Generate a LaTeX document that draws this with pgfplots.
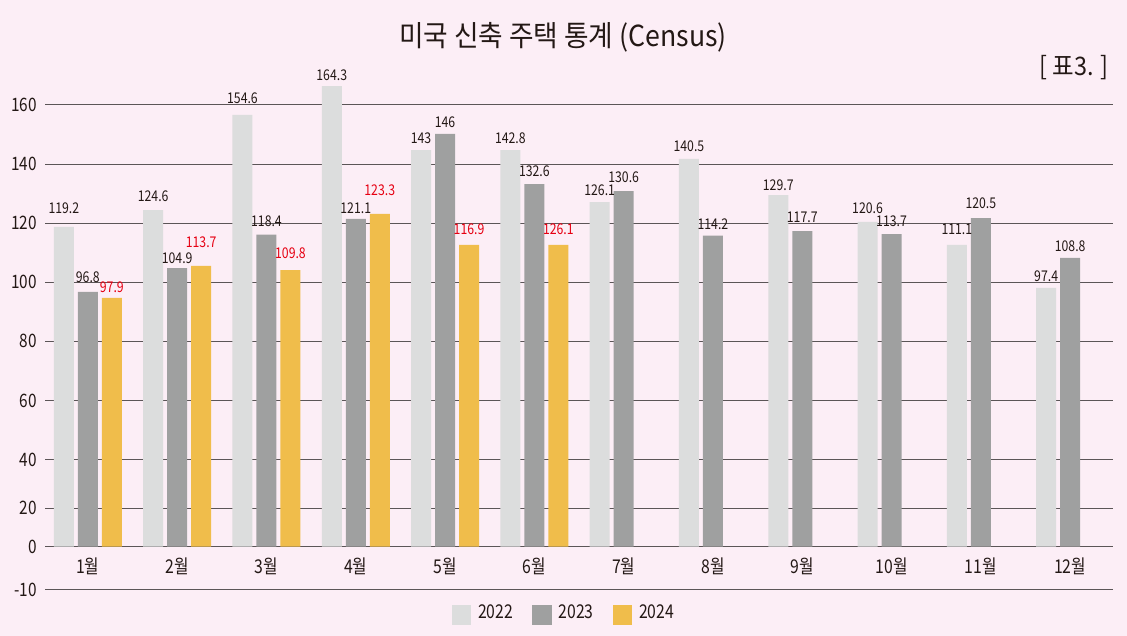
\documentclass[border=0pt]{standalone}
\usepackage{fontspec}
\setmainfont{Noto Sans CJK KR}[FakeStretch=0.83]
\newfontfamily\titlefont{Noto Sans CJK KR}[FakeStretch=0.92]
\usepackage{pgfplots}
\pgfplotsset{compat=1.18}
\definecolor{bg}{HTML}{FCEEF6}
\definecolor{c22}{HTML}{DCDDDD}
\definecolor{c23}{HTML}{9FA0A0}
\definecolor{c24}{HTML}{F0BD4B}
\definecolor{gridc}{HTML}{5B5557}
\definecolor{txt}{HTML}{231815}
\definecolor{lab}{HTML}{E60012}
\pgfplotsset{sqlegend/.style={legend image code/.code={\fill[##1] (0pt,-12.3pt) rectangle (19.5pt,7.5pt);}}}
\begin{document}
\begin{tikzpicture}
\useasboundingbox (0pt,0pt) rectangle (1127pt,-636pt);
\fill[bg] (0pt,0pt) rectangle (1127pt,-636pt);
\node[font=\titlefont\fontsize{29}{32}\selectfont, text=txt] at (563pt,-37pt) {미국 신축 주택 통계 (Census)};
\node[font=\titlefont\fontsize{25.5}{28}\selectfont, text=txt, anchor=east, inner sep=0pt] at (1109pt,-68pt) {[ 표3. ]};
\begin{axis}[
  at={(45pt,-589.7pt)}, anchor=south west,
  scale only axis, width=1068pt, height=529.7pt,
  xmin=0.52, xmax=12.48, ymin=-14.55, ymax=164.7,
  clip=false,
  axis line style={draw=none},
  major tick length=0pt,
  ymajorgrids,
  grid style={gridc, line width=0.9pt},
  xtick={1,2,3,4,5,6,7,8,9,10,11,12},
  xticklabels={1월,2월,3월,4월,5월,6월,7월,8월,9월,10월,11월,12월},
  ytick={-14.55,0,13.0,29.5,49.5,69.5,89.5,109.5,129.5,149.5},
  yticklabels={-10,0,20,40,60,80,100,120,140,160},
  xticklabel style={font=\fontsize{19}{22}\selectfont, text=txt, anchor=center, yshift=23.7pt},
  yticklabel style={font=\fontsize{18.5}{20}\selectfont, text=txt, anchor=east, inner sep=0pt, xshift=-8pt},
  legend style={at={(0.485,-0.0478)}, anchor=center, draw=none, fill=none,
    font=\fontsize{19}{22}\selectfont, text=txt,
    legend columns=3,
    nodes={inner sep=0pt},
    /tikz/every odd column/.append style={column sep=7pt},
    /tikz/every even column/.append style={column sep=19pt}},
  sqlegend,
]
\addplot[ybar, bar width=20pt, bar shift=-24pt, fill=c22, draw=none, sqlegend]
  coordinates {(1,108.2) (2,113.9) (3,146.1) (4,155.9) (5,134.2) (6,134.2) (7,116.6) (8,131.2) (9,119.0) (10,109.9) (11,102.1) (12,87.6)};
\addlegendentry{2022}
\addplot[ybar, bar width=20pt, bar shift=0pt, fill=c23, draw=none, sqlegend]
  coordinates {(1,86.2) (2,94.3) (3,105.6) (4,110.9) (5,139.7) (6,122.7) (7,120.3) (8,105.3) (9,106.8) (10,105.8) (11,111.2) (12,97.7)};
\addlegendentry{2023}
\addplot[ybar, bar width=20pt, bar shift=24pt, fill=c24, draw=none, sqlegend]
  coordinates {(1,84.2) (2,95.0) (3,93.6) (4,112.6) (5,102.1) (6,102.1)};
\addlegendentry{2024}
% value labels
\addplot[draw=none, mark=none, forget plot, nodes near coords, point meta=explicit symbolic,
  every node near coord/.append style={xshift=-24pt, anchor=base, inner sep=0pt, text=txt, font=\fontsize{14.8}{16}\selectfont}]
  coordinates {(1,112.6)[119.2] (2,116.9)[124.6] (3,150.1)[154.6] (4,157.7)[164.3] (5,136.3)[143] (6,136.3)[142.8] (7,118.7)[126.1] (8,133.6)[140.5] (9,120.7)[129.7] (10,112.8)[120.6] (11,105.6)[111.1] (12,89.6)[97.4]};
\addplot[draw=none, mark=none, forget plot, nodes near coords, point meta=explicit symbolic,
  every node near coord/.append style={xshift=0pt, anchor=base, inner sep=0pt, text=txt, font=\fontsize{14.8}{16}\selectfont}]
  coordinates {(1,89.3)[96.8] (2,95.7)[104.9] (3,108.3)[118.4] (4,112.8)[121.1] (5,141.9)[146] (6,125.2)[132.6] (7,123.4)[130.6] (8,107.2)[114.2] (9,109.6)[117.7] (10,108.3)[113.7] (11,114.6)[120.5] (12,100.0)[108.8]};
\addplot[draw=none, mark=none, forget plot, nodes near coords, point meta=explicit symbolic,
  every node near coord/.append style={xshift=24pt, anchor=base, inner sep=0pt, text=lab, font=\fontsize{14.8}{16}\selectfont}]
  coordinates {(1,86.0)[97.9] (2,101.3)[113.7] (3,97.5)[109.8] (4,118.9)[123.3] (5,105.8)[116.9] (6,105.8)[126.1]};
\end{axis}
\end{tikzpicture}
\end{document}
